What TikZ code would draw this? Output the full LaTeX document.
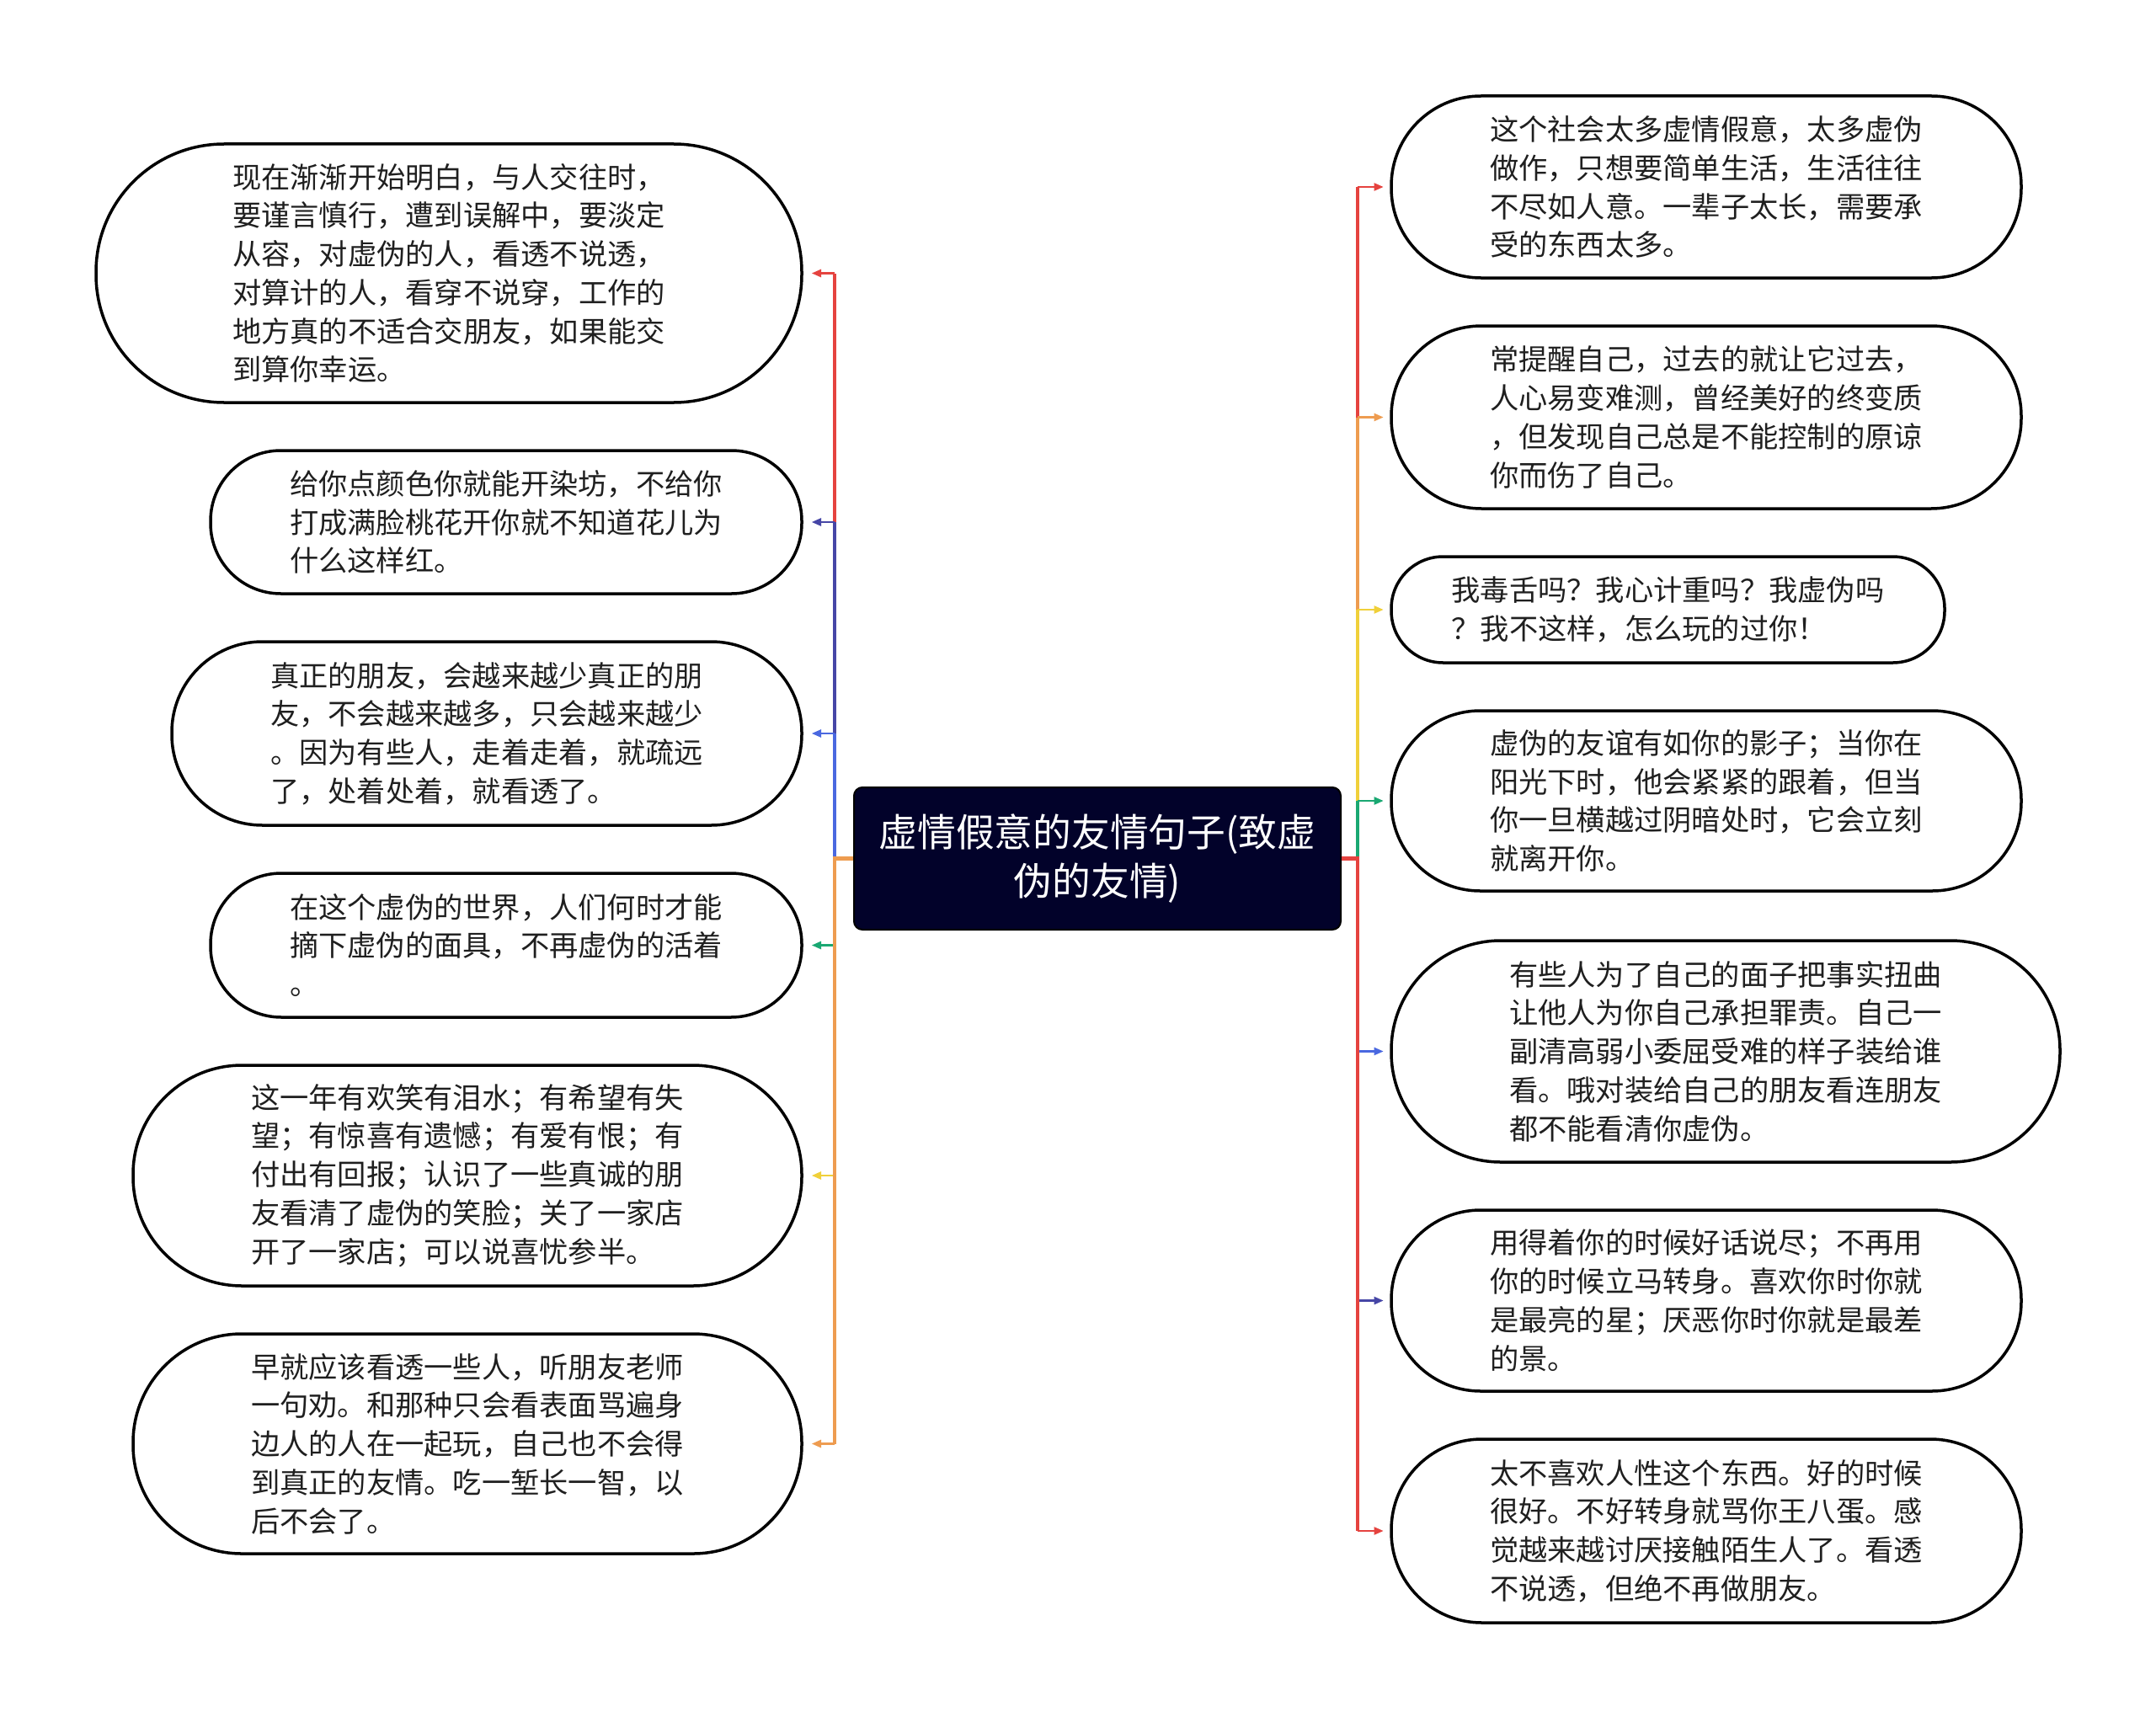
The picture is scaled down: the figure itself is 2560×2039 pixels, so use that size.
\documentclass[tikz,border=0pt]{standalone}
\usepackage{fontspec}
\newfontfamily\cjk{Noto Sans CJK SC}
\usetikzlibrary{arrows.meta}
\definecolor{cred}{HTML}{E5433F}
\definecolor{corange}{HTML}{EE9C50}
\definecolor{cyellow}{HTML}{F0D03A}
\definecolor{cgreen}{HTML}{1AA872}
\definecolor{cblue}{HTML}{4A68E0}
\definecolor{cindigo}{HTML}{4646A6}
\definecolor{cnavy}{HTML}{02022A}
\newcommand\mybubble[6]{%
  \pgfmathsetmacro\bw{(#4-#2)*0.4}%
  \pgfmathsetmacro\bh{(#5-#3)*0.4}%
  \pgfmathsetmacro\br{\bh/2-0.6}%
  \node[bubble, minimum width=\bw pt, minimum height=\bh pt, rounded corners=\br pt] (#1) at ({(#2+#4)/2},{(#3+#5)/2}) {#6};}
\begin{document}
\begin{tikzpicture}[x=0.4pt,y=-0.4pt,
  bubble/.style={draw=black, line width=1.4pt, fill=white, inner sep=0pt, align=left,
    font=\cjk\fontsize{13.7pt}{18.3pt}\selectfont, text=black!88},
  root/.style={fill=cnavy, draw=black, line width=0.8pt, rounded corners=4pt, inner sep=0pt,
    align=center, text=white, font=\cjk\fontsize{18.3pt}{22.9pt}\selectfont},
  trunk/.style={line width=1.8pt},
  branch/.style={line width=1pt, -{Triangle[length=4.5pt,width=3.6pt]}}]
\useasboundingbox (0,0) rectangle (2560,2039);
\fill[white] (0,0) rectangle (2560,2039);

\node[root, minimum width=231.2pt, minimum height=67.6pt] (root) at (1303,1019.5)
  {虚情假意的友情句子(致虚\\伪的友情)};

% left
\mybubble{L1}{114}{171}{952}{478}{现在渐渐开始明白，与人交往时，\\要谨言慎行，遭到误解中，要淡定\\从容，对虚伪的人，看透不说透，\\对算计的人，看穿不说穿，工作的\\地方真的不适合交朋友，如果能交\\到算你幸运。}
\mybubble{L2}{250}{535}{952}{705}{给你点颜色你就能开染坊，不给你\\打成满脸桃花开你就不知道花儿为\\什么这样红。}
\mybubble{L3}{204}{762}{952}{980}{真正的朋友，会越来越少真正的朋\\友，不会越来越多，只会越来越少\\。因为有些人，走着走着，就疏远\\了，处着处着，就看透了。}
\mybubble{L4}{250}{1037}{952}{1208}{在这个虚伪的世界，人们何时才能\\摘下虚伪的面具，不再虚伪的活着\\。}
\mybubble{L5}{158}{1265}{952}{1527}{这一年有欢笑有泪水；有希望有失\\望；有惊喜有遗憾；有爱有恨；有\\付出有回报；认识了一些真诚的朋\\友看清了虚伪的笑脸；关了一家店\\开了一家店；可以说喜忧参半。}
\mybubble{L6}{158}{1584}{952}{1845}{早就应该看透一些人，听朋友老师\\一句劝。和那种只会看表面骂遍身\\边人的人在一起玩，自己也不会得\\到真正的友情。吃一堑长一智，以\\后不会了。}

% right
\mybubble{R1}{1652}{114}{2400}{330}{这个社会太多虚情假意，太多虚伪\\做作，只想要简单生活，生活往往\\不尽如人意。一辈子太长，需要承\\受的东西太多。}
\mybubble{R2}{1652}{387}{2400}{604}{常提醒自己，过去的就让它过去，\\人心易变难测，曾经美好的终变质\\，但发现自己总是不能控制的原谅\\你而伤了自己。}
\mybubble{R3}{1652}{661}{2309}{787}{我毒舌吗？我心计重吗？我虚伪吗\\？我不这样，怎么玩的过你！}
\mybubble{R4}{1652}{844}{2400}{1058}{虚伪的友谊有如你的影子；当你在\\阳光下时，他会紧紧的跟着，但当\\你一旦横越过阴暗处时，它会立刻\\就离开你。}
\mybubble{R5}{1652}{1117}{2446}{1380}{有些人为了自己的面子把事实扭曲\\让他人为你自己承担罪责。自己一\\副清高弱小委屈受难的样子装给谁\\看。哦对装给自己的朋友看连朋友\\都不能看清你虚伪。}
\mybubble{R6}{1652}{1437}{2400}{1652}{用得着你的时候好话说尽；不再用\\你的时候立马转身。喜欢你时你就\\是最亮的星；厌恶你时你就是最差\\的景。}
\mybubble{R7}{1652}{1709}{2400}{1927}{太不喜欢人性这个东西。好的时候\\很好。不好转身就骂你王八蛋。感\\觉越来越讨厌接触陌生人了。看透\\不说透，但绝不再做朋友。}

% trunk coordinates
\coordinate (tL1) at (991,324.5);
\coordinate (tL2) at (991,620);
\coordinate (tL3) at (991,871);
\coordinate (tL4) at (991,1122.5);
\coordinate (tL5) at (991,1396);
\coordinate (tL6) at (991,1714.5);
\coordinate (tR1) at (1612,222);
\coordinate (tR2) at (1612,495.5);
\coordinate (tR3) at (1612,724);
\coordinate (tR4) at (1612,951);
\coordinate (tR5) at (1612,1248.5);
\coordinate (tR6) at (1612,1544.5);
\coordinate (tR7) at (1612,1818);

% left connectors
\foreach \n/\c in {L1/cred,L2/cindigo,L3/cblue,L4/cgreen,L5/cyellow,L6/corange}{
  \draw[trunk,\c] (root.west) -| (t\n);
  \draw[branch,\c,shorten >=4pt] (t\n) -- (\n.east);
}
% right connectors
\foreach \n/\c in {R1/cred,R2/corange,R3/cyellow,R4/cgreen,R5/cblue,R6/cindigo,R7/cred}{
  \draw[trunk,\c] (root.east) -| (t\n);
  \draw[branch,\c,shorten >=3pt] (t\n) -- (\n.west);
}
\end{tikzpicture}
\end{document}
